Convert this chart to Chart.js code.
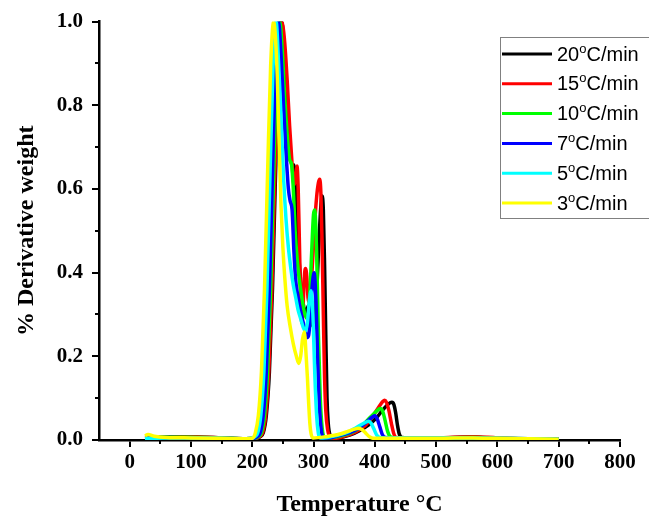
<!DOCTYPE html>
<html>
<head>
<meta charset="utf-8">
<script src="https://cdn.jsdelivr.net/npm/chart.js@4/dist/chart.umd.min.js"></script>
<style>
html,body{margin:0;padding:0;background:#fff;}
#wrap{width:649px;height:522px;}
</style>
</head>
<body>
<div id="wrap"><canvas id="dtg" width="649" height="522"></canvas></div>
<script>
'use strict';
// heating rates, legend order
const rateLabels = ['20°C/min','15°C/min','10°C/min','7°C/min','5°C/min','3°C/min'];
const rateColors = ['#000000','#ff0000','#00ff00','#0000ff','#00ffff','#ffff00'];

// temperature (°C) / derivative weight (normalised)
const t20=[25,60,110,150,190,208,213,218,223,228,233,238,243,248,251,255,259,262,265,268,270,273,276,279,282,285,288,291,294,297,300,303,306,309,312,314,316,318,320,322,324,327,332,345,360,375,390,402,412,420,425,428,431,434,437,440,444,455,500,560,600,650,700];
const w20=[0.008,0.008,0.007,0.005,0.003,0.004,0.008,0.017,0.059,0.163,0.36,0.636,0.893,1.0,0.96,0.86,0.75,0.68,0.655,0.657,0.62,0.52,0.44,0.38,0.34,0.31,0.3,0.32,0.3,0.28,0.27,0.3,0.38,0.48,0.56,0.583,0.55,0.42,0.25,0.1,0.04,0.012,0.005,0.006,0.012,0.022,0.036,0.052,0.07,0.083,0.089,0.09,0.085,0.065,0.035,0.014,0.006,0.005,0.005,0.007,0.004,0.003,0.002];

const t15=[25,60,110,150,190,207,212,217,222,227,232,237,242,247,250,253,257,261,265,268,271,273,275,277,279,281,283,285,287,289,291,293,296,299,302,305,308,310,312,314,316,318,320,323,327,335,350,370,385,398,407,413,416,419,423,427,431,435,445,500,560,600,650,700];
const w15=[0.008,0.008,0.007,0.005,0.003,0.004,0.008,0.017,0.059,0.163,0.36,0.636,0.893,1.0,0.99,0.95,0.86,0.75,0.66,0.61,0.63,0.655,0.6,0.47,0.34,0.28,0.32,0.39,0.41,0.39,0.34,0.33,0.37,0.44,0.52,0.58,0.615,0.623,0.59,0.47,0.3,0.15,0.07,0.025,0.008,0.004,0.009,0.02,0.035,0.06,0.08,0.092,0.095,0.09,0.07,0.04,0.015,0.006,0.005,0.005,0.008,0.005,0.003,0.002];

const t10=[25,60,110,150,190,205,210,215,220,225,230,235,240,245,249,253,257,261,264,267,270,274,278,282,286,290,294,297,300,302,305,308,311,314,318,325,345,365,380,393,402,409,413,417,421,425,432,500,560,600,650,700];
const w10=[0.007,0.007,0.006,0.005,0.003,0.004,0.008,0.017,0.059,0.163,0.36,0.636,0.893,1.0,0.93,0.82,0.73,0.67,0.66,0.6,0.5,0.42,0.37,0.33,0.3,0.29,0.35,0.45,0.54,0.55,0.45,0.25,0.1,0.03,0.006,0.005,0.01,0.02,0.035,0.055,0.068,0.075,0.068,0.045,0.02,0.008,0.005,0.005,0.006,0.004,0.003,0.002];

const t7=[25,60,110,150,190,203,208,213,218,223,228,233,238,243,247,251,255,259,262,265,268,271,275,280,285,289,292,295,298,301,304,307,310,313,317,325,340,360,375,388,396,400,404,408,412,417,425,500,560,600,650,700];
const w7=[0.006,0.006,0.005,0.004,0.003,0.004,0.008,0.017,0.059,0.163,0.36,0.636,0.893,1.0,0.92,0.8,0.69,0.6,0.57,0.55,0.45,0.38,0.34,0.3,0.27,0.245,0.25,0.3,0.37,0.4,0.33,0.18,0.07,0.02,0.005,0.005,0.01,0.018,0.03,0.045,0.055,0.058,0.05,0.032,0.014,0.006,0.005,0.005,0.005,0.004,0.003,0.002];

const t5=[25,60,110,150,190,199,204,209,214,219,224,229,234,239,243,247,251,255,259,263,267,271,275,279,283,287,290,293,296,299,302,305,308,311,315,335,355,370,382,390,394,398,403,408,415,500,560,600,650,700];
const w5=[0.004,0.005,0.005,0.004,0.003,0.004,0.008,0.017,0.059,0.163,0.36,0.636,0.893,1.0,0.9,0.77,0.63,0.53,0.46,0.41,0.37,0.34,0.31,0.29,0.27,0.26,0.28,0.33,0.357,0.3,0.16,0.06,0.015,0.005,0.005,0.01,0.018,0.03,0.04,0.045,0.04,0.028,0.012,0.006,0.005,0.005,0.005,0.004,0.003,0.002];

const t3=[25,30,40,60,100,150,190,200,205,210,215,220,225,230,235,238,241,244,247,250,253,257,262,267,272,276,279,282,285,288,290,292,294,296,299,320,340,355,367,373,380,386,392,398,450,500,560,600,650,700];
const w3=[0.01,0.013,0.009,0.006,0.005,0.004,0.003,0.004,0.017,0.059,0.163,0.36,0.636,0.893,1.0,0.96,0.86,0.7,0.56,0.46,0.39,0.32,0.27,0.23,0.2,0.183,0.2,0.24,0.258,0.2,0.15,0.09,0.04,0.015,0.005,0.008,0.013,0.02,0.026,0.028,0.024,0.015,0.007,0.004,0.004,0.004,0.005,0.004,0.003,0.002];

const xTicks=[0,100,200,300,400,500,600,700,800];
const yTicks=[0,0.2,0.4,0.6,0.8,1.0];

const temps=[t20,t15,t10,t7,t5,t3];
const weights=[w20,w15,w10,w7,w5,w3];

function pts(t,w){
  return t.map((x,i)=>({x:x,y:w[i]}));
}

const serif='"Liberation Serif","Times New Roman",serif';
const sans='"Liberation Sans",Arial,sans-serif';

// minor ticks + boxed legend in the corner
const extras={
  id:'extras',
  afterDraw(chart){
    const ctx=chart.ctx, xs=chart.scales.x, ys=chart.scales.y;
    ctx.save();
    ctx.strokeStyle='#000'; ctx.lineWidth=2;
    for(let v=50; v<=750; v+=100){
      const px=Math.round(xs.getPixelForValue(v));
      ctx.beginPath(); ctx.moveTo(px,ys.bottom); ctx.lineTo(px,ys.bottom+4); ctx.stroke();
    }
    [0.1,0.3,0.5,0.7,0.9].forEach(v=>{
      const py=Math.round(ys.getPixelForValue(v));
      ctx.beginPath(); ctx.moveTo(xs.left,py); ctx.lineTo(xs.left-4,py); ctx.stroke();
    });

    ctx.strokeStyle='#808080'; ctx.lineWidth=1;
    ctx.strokeRect(500.5,37.5,170,181);
    chart.data.datasets.forEach((ds,i)=>{
      const y=54+i*29.8;
      ctx.strokeStyle=ds.borderColor; ctx.lineWidth=3;
      ctx.beginPath(); ctx.moveTo(502,y); ctx.lineTo(552,y); ctx.stroke();
      const parts=ds.label.split('°');
      ctx.fillStyle='#000'; ctx.textBaseline='middle'; ctx.textAlign='left';
      ctx.font='20px '+sans;
      let x=557;
      ctx.fillText(parts[0],x,y+1); x+=ctx.measureText(parts[0]).width;
      ctx.font='13px '+sans;
      ctx.fillText('o',x,y-5); x+=ctx.measureText('o').width;
      ctx.font='20px '+sans;
      ctx.fillText('C'+parts[1].slice(1),x,y+1);
    });
    ctx.restore();
  }
};

new Chart(document.getElementById('dtg').getContext('2d'),{
  type:'line',
  data:{
    datasets:rateLabels.map((lab,i)=>({
      label:lab,
      data:pts(temps[i],weights[i]),
      borderColor:rateColors[i],
      backgroundColor:rateColors[i],
      borderWidth:3.5,
      pointRadius:0,
      fill:false,
      cubicInterpolationMode:'monotone',
      order:rateLabels.length-1-i
    }))
  },
  options:{
    responsive:false,
    animation:false,
    layout:{padding:{left:0,right:29,top:20,bottom:0}},
    plugins:{legend:{display:false},tooltip:{enabled:false}},
    scales:{
      x:{
        type:'linear', min:-50, max:800,
        afterBuildTicks(s){ s.ticks=xTicks.map(v=>({value:v})); },
        afterFit(s){ s.height=82; },
        border:{display:true,color:'#000',width:2.5},
        grid:{display:true,drawOnChartArea:false,drawTicks:true,tickLength:7,color:'#000',lineWidth:2},
        ticks:{color:'#000',padding:3,maxRotation:0,font:{family:serif,size:21,weight:'bold'}},
        title:{display:true,text:'Temperature °C',color:'#000',padding:{top:0,bottom:3},font:{family:serif,size:24,weight:'bold'}}
      },
      y:{
        type:'linear', min:0, max:1,
        afterBuildTicks(s){ s.ticks=yTicks.map(v=>({value:v})); },
        afterFit(s){ s.width=99; },
        border:{display:true,color:'#000',width:2.5},
        grid:{display:true,drawOnChartArea:false,drawTicks:true,tickLength:7,color:'#000',lineWidth:2},
        ticks:{color:'#000',padding:9,callback:v=>v.toFixed(1),font:{family:serif,size:21,weight:'bold'}},
        title:{display:true,text:'% Derivative weight',color:'#000',padding:{top:12,bottom:0},font:{family:serif,size:24,weight:'bold'}}
      }
    }
  },
  plugins:[extras]
});
</script>
</body>
</html>
